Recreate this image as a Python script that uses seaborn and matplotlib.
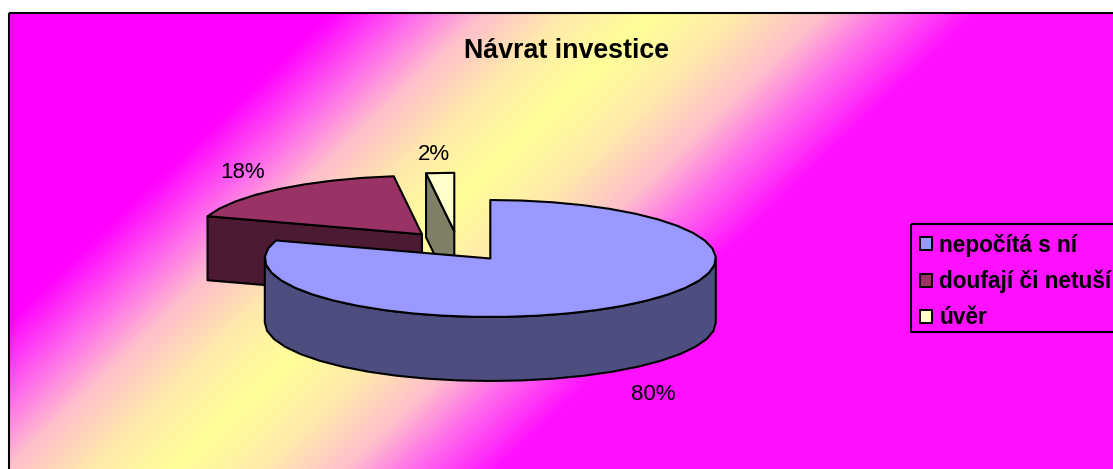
import numpy as np
import matplotlib
matplotlib.use('Agg')
import matplotlib.pyplot as plt
from matplotlib.colors import LinearSegmentedColormap
from matplotlib.patches import Patch, Polygon, Rectangle
import seaborn as sns

# Chart data
title = 'Návrat investice'
categories = ['nepočítá s ní', 'doufají či netuší', 'úvěr']
values = [80, 18, 2]

sns.set_theme(style='white')
plt.rcParams['font.family'] = ['Liberation Sans', 'DejaVu Sans']

top_colors = sns.color_palette(['#9999FF', '#993366', '#FFFFCC'])
side_colors = sns.color_palette(['#4D4D80', '#4D1A33', '#808066'])

# Pie geometry, in pixels of the picture
center_x, center_y = 490.3, 258.5
radius_x, radius_y = 225.5, 58.5
depth = 64
offsets = [(0, 0), (-68.3, -24.2), (-36, -27.2)]
label_pos = [(653, 394), (243, 172), (434, 154)]
line_w = 1.5


def arc(start, end, dx, dy, drop=0):
    # angles in degrees clockwise from 12 o'clock, coarse steps like the original
    n = max(2, int((end - start) / 8) + 1)
    a = np.radians(np.linspace(start, end, n))
    x = center_x + dx + radius_x * np.sin(a)
    y = center_y + dy + drop - radius_y * np.cos(a)
    return np.column_stack([x, y])


fig = plt.figure(figsize=(11.13, 4.69), dpi=100, facecolor='white')
ax = fig.add_axes([0, 0, 1, 1])
ax.set_xlim(0, 1113)
ax.set_ylim(469, 0)
ax.axis('off')

# Diagonal background: magenta, yellow, magenta, pale band is wide
stops = [(0, '#FF00FF'), (0.135, '#FF6EEB'), (0.235, '#FFBECD'), (0.37, '#FFEBAA'),
         (0.5, '#FFFF99'),
         (0.63, '#FFEBAA'), (0.765, '#FFBECD'), (0.865, '#FF6EEB'), (1, '#FF10FF')]
cmap = LinearSegmentedColormap.from_list('bg', stops)
xx, yy = np.meshgrid(np.arange(9, 1113), np.arange(13, 469))
grad = np.clip((xx + 1.05 * yy - 343) / (991 - 343), 0, 1)
ax.imshow(grad, cmap=cmap, vmin=0, vmax=1, extent=(9, 1113, 469, 13),
          aspect='auto', interpolation='nearest', zorder=0)
ax.set_xlim(0, 1113)
ax.set_ylim(469, 0)
ax.add_patch(Rectangle((9, 13), 1110, 470, fill=False, ec='black', lw=1.5, zorder=1))

# Slice angles come from the values
ends = np.cumsum(values) / np.sum(values) * 360
starts = np.concatenate([[0], ends[:-1]])

# Back slices first, the big one goes on top
for i in [1, 2, 0]:
    s, e = starts[i], ends[i]
    dx, dy = offsets[i]
    apex = np.array([center_x + dx, center_y + dy])
    rim = arc(s, e, dx, dy)
    z = 3 + [1, 2, 0].index(i) * 2

    if i == 0:
        # outer wall, only the front half of the rim shows
        wall_top = arc(90, 270, dx, dy)
        wall_bottom = arc(90, 270, dx, dy, drop=depth)
        wall = np.vstack([wall_top, wall_bottom[::-1]])
    else:
        # cut face on the start side of the exploded slice
        wall = np.array([rim[0], apex, apex + [0, depth], rim[0] + [0, depth]])
    ax.add_patch(Polygon(wall, closed=True, fc=side_colors[i], ec='black',
                         lw=line_w, joinstyle='round', zorder=z))
    ax.add_patch(Polygon(np.vstack([apex, rim]), closed=True, fc=top_colors[i],
                         ec='black', lw=line_w, joinstyle='round', zorder=z + 1))

for v, (lx, ly) in zip(values, label_pos):
    ax.text(lx, ly, f'{v}%', ha='center', va='center', fontsize=16,
            color='black', zorder=12)

ax.text(566, 51, title, ha='center', va='center', fontsize=19.3,
        fontweight='bold', color='black', zorder=12)

# Legend box runs off the right edge of the picture
ax.add_patch(Rectangle((911, 224), 300, 107.7, fill=False, ec='black', lw=1.5, zorder=11))
handles = [Patch(fc=c, ec='black', lw=1.4) for c in top_colors]
leg = ax.legend(handles, categories, loc='upper left',
                bbox_to_anchor=(911.5, 225.2), bbox_transform=ax.transData,
                borderaxespad=0, borderpad=0.37,
                prop={'weight': 'bold', 'size': 16.3},
                handlelength=0.53, handleheight=0.53, handletextpad=0.33,
                labelspacing=0.58, frameon=False, labelcolor='black')
leg.set_zorder(12)

fig.savefig('out.png', dpi=100, facecolor='white')
